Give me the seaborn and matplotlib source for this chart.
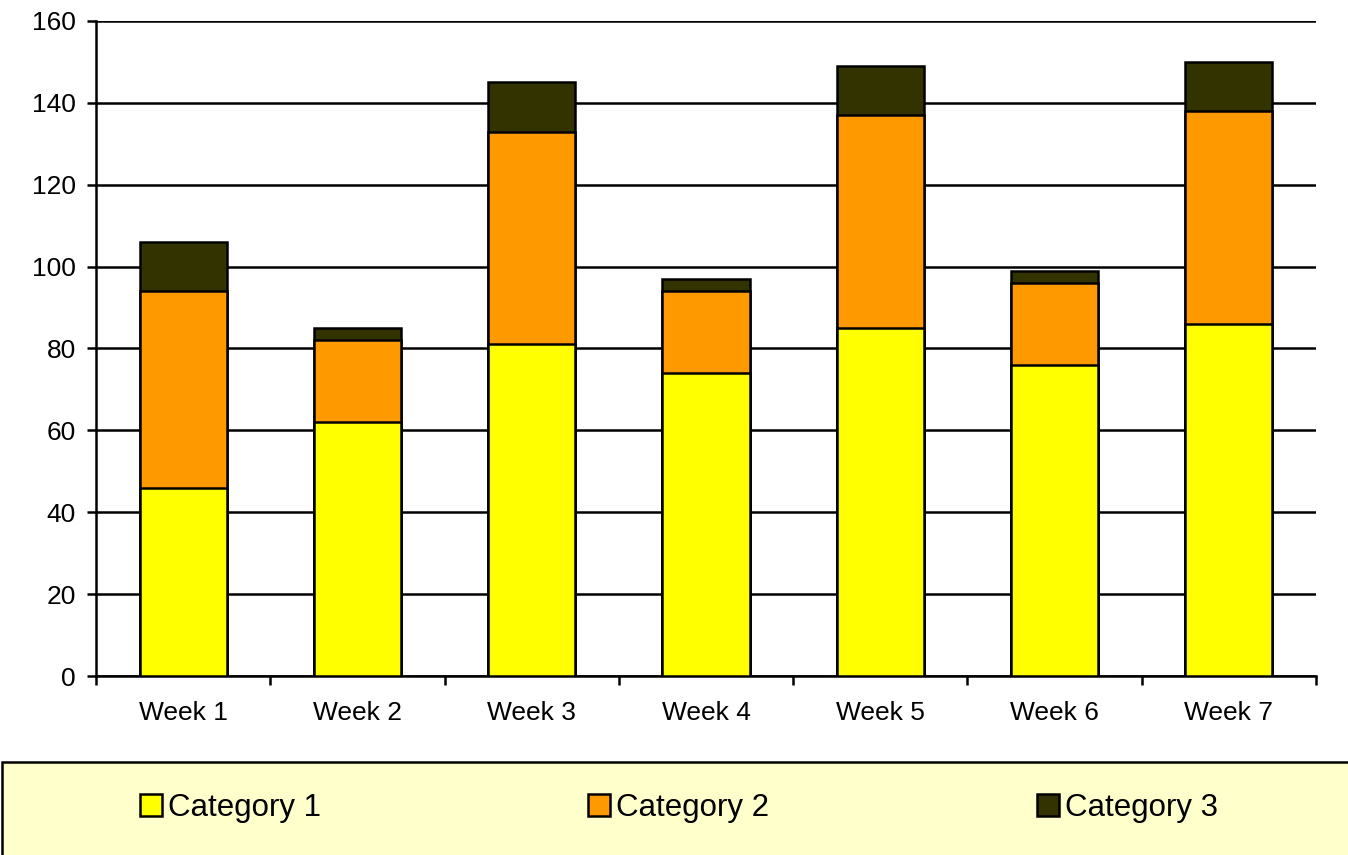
import numpy as np
import pandas as pd
import seaborn as sns
import matplotlib.pyplot as plt
from matplotlib.patches import Rectangle, Patch

# data
weeks = ['Week 1', 'Week 2', 'Week 3', 'Week 4', 'Week 5', 'Week 6', 'Week 7']
cat1 = [46, 62, 81, 74, 85, 76, 86]
cat2 = [48, 20, 52, 20, 52, 20, 52]
cat3 = [12, 3, 12, 3, 12, 3, 12]
series_names = ['Category 1', 'Category 2', 'Category 3']
colors = ['#FFFF00', '#FF9900', '#333300']

df = pd.DataFrame({'week': weeks, 'c1': cat1, 'c2': cat2, 'c3': cat3})
df['top2'] = df['c1'] + df['c2']
df['top3'] = df['top2'] + df['c3']

sns.set_style('white')
plt.rcParams['font.family'] = ['Liberation Sans', 'DejaVu Sans']
plt.rcParams['text.color'] = 'black'
plt.rcParams['xtick.color'] = 'black'
plt.rcParams['ytick.color'] = 'black'

lw = 1.8

fig = plt.figure(figsize=(13.48, 8.55), dpi=100)
ax = fig.add_axes([96 / 1348, 1 - 676 / 855, (1316 - 96) / 1348, (676 - 21) / 855])

# stacked by overlaying the cumulative totals, tallest first
for col, c in zip(['top3', 'top2', 'c1'], colors[::-1]):
    sns.barplot(data=df, x='week', y=col, color=c, saturation=1, width=0.5,
                edgecolor='black', linewidth=lw, ax=ax, zorder=3)

ax.set_ylim(0, 160)
ax.set_xlim(-0.5, 6.5)
ax.set_yticks(np.arange(0, 161, 20))
ax.yaxis.grid(True, color='black', linewidth=lw, zorder=0)
ax.set_axisbelow(True)

ax.set_xticks(np.arange(-0.5, 7, 1))
ax.set_xticklabels([])
ax.set_xticks(range(7), minor=True)
ax.set_xticklabels(weeks, minor=True)
ax.tick_params(axis='x', which='major', direction='out', length=6.5, width=lw, color='black', bottom=True)
ax.tick_params(axis='x', which='minor', length=0, pad=18, labelsize=19, labelcolor='black')
ax.tick_params(axis='y', direction='out', length=6.5, width=lw, color='black', left=True, pad=8,
               labelsize=19, labelcolor='black')
ax.set_xlabel('')
ax.set_ylabel('')

for s in ['top', 'right']:
    ax.spines[s].set_visible(False)
for s in ['left', 'bottom']:
    ax.spines[s].set_color('black')
    ax.spines[s].set_linewidth(lw)

# legend panel
panel = Rectangle((2 / 1348, -0.05), 1.0, (855 - 762) / 855 + 0.05, transform=fig.transFigure,
                  facecolor='#FFFFCC', edgecolor='black', linewidth=lw, zorder=0)
fig.patches.append(panel)

handles = [Patch(facecolor=c, edgecolor='black', linewidth=lw) for c in colors]
fig.legend(handles, series_names, loc='center left', bbox_to_anchor=(140 / 1348, 1 - 808 / 855),
           ncol=3, frameon=False, fontsize=22.5, labelcolor='black', handlelength=0.7, handleheight=0.7,
           handletextpad=0.2, columnspacing=8.55, borderpad=0, borderaxespad=0)

fig.savefig('out.png', dpi=100)
